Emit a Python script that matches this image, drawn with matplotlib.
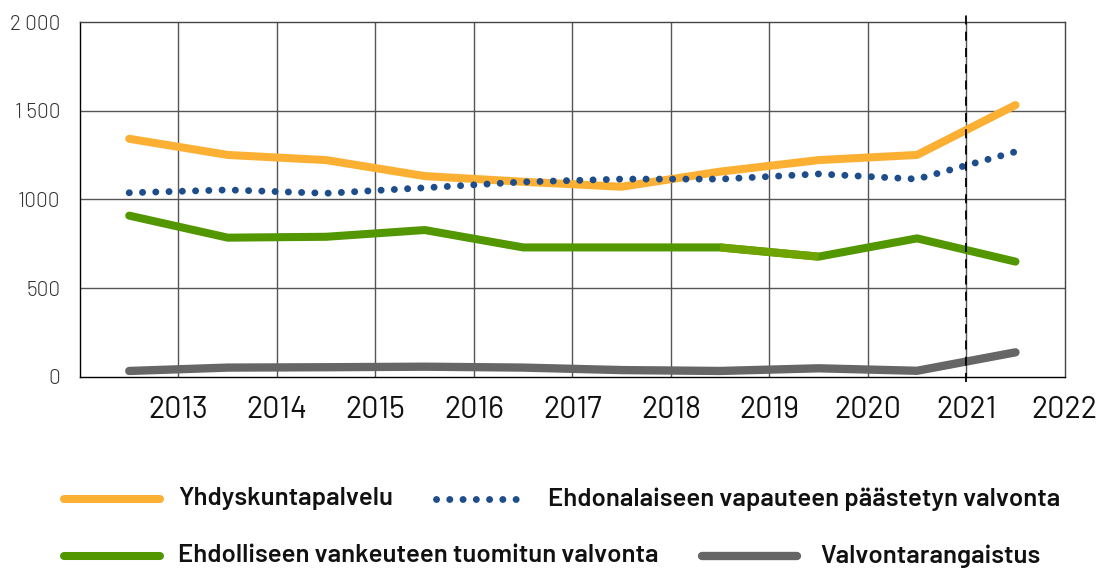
import matplotlib.pyplot as plt
from matplotlib.lines import Line2D

plt.rcParams['font.family'] = ['Barlow', 'DejaVu Sans']

years = ['2013', '2014', '2015', '2016', '2017', '2018', '2019', '2020', '2021', '2022']
yhdyskunta = [1342, 1251, 1222, 1132, 1100, 1072, 1157, 1222, 1251, 1532]
ehdonalainen = [1038, 1054, 1035, 1066, 1099, 1115, 1115, 1144, 1115, 1269]
ehdollinen = [909, 785, 790, 828, 730, 730, 730, 678, 781, 650]
valvonta = [34, 53, 55, 58, 53, 39, 34, 49, 35, 139]

y_ticks = [0, 500, 1000, 1500, 2000]
y_labels = ['0', '500', '1000', '1 500', '2 000']

names = ['Yhdyskuntapalvelu', 'Ehdonalaiseen vapauteen päästetyn valvonta',
         'Ehdolliseen vankeuteen tuomitun valvonta', 'Valvontarangaistus']

c_yellow = '#FBB034'
c_blue = '#1E4D8C'
c_green = '#529600'
c_green2 = '#6FA300'
c_gray = '#666666'

fig = plt.figure(figsize=(10.99, 5.70), dpi=100)
ax = fig.add_axes([0.0728, 0.3386, 0.896, 0.6228])

x = [i + 0.5 for i in range(len(years))]

# grid
for g in range(1, len(years)):
    ax.axvline(g, color='#555555', lw=1, zorder=1)
for t in y_ticks[1:-1]:
    ax.axhline(t, color='#555555', lw=1, zorder=1)

ax.plot(x, valvonta, color=c_gray, lw=6, solid_capstyle='round', solid_joinstyle='round', zorder=3)
ax.plot(x, ehdollinen, color=c_green, lw=5.8, solid_capstyle='round', solid_joinstyle='round', zorder=3)
ax.plot(x[6:8], ehdollinen[6:8], color=c_green2, lw=5.8, solid_capstyle='butt', zorder=3)
ax.plot(x, yhdyskunta, color=c_yellow, lw=5.8, solid_capstyle='round', solid_joinstyle='round', zorder=4)
ax.plot(x, ehdonalainen, color=c_blue, lw=5, linestyle=(0, (0.01, 1.9)),
        dash_capstyle='round', zorder=5)

ax.set_xlim(0, len(years))
ax.set_ylim(0, 2000)

# dashed forecast line
ax.plot([9, 9], [-30, 2040], color='black', lw=1.3, ls=(0, (5, 4)), clip_on=False, zorder=6)

ax.set_xticks(range(1, len(years) + 1))
ax.set_xticklabels(years, fontsize=22, color='#111111')
ax.set_yticks(y_ticks)
ax.set_yticklabels(y_labels, fontsize=15, color='#333333', fontweight=300)
ax.tick_params(length=0)
ax.tick_params(axis='x', pad=14)
ax.tick_params(axis='y', pad=14)
for lbl in ax.get_xticklabels():
    lbl.set_x(lbl.get_position()[0])

for s in ['left', 'bottom']:
    ax.spines[s].set_color('black')
for s in ['top', 'right']:
    ax.spines[s].set_color('#444444')
for s in ax.spines.values():
    s.set_linewidth(1)

# legend drawn by hand
W, H = 1099, 570
def leg_item(x0, x1, xt, yp, label, **kw):
    fig.add_artist(Line2D([x0 / W, x1 / W], [1 - yp / H, 1 - yp / H], transform=fig.transFigure, **kw))
    fig.text(xt / W, 1 - yp / H, label, fontsize=18.5, fontweight=600, va='center', ha='left', color='#111111')

leg_item(64, 160, 178, 499, names[0], color=c_yellow, lw=5.8, solid_capstyle='round')
leg_item(436, 528, 548, 499, names[1], color=c_blue, lw=5, ls=(0, (0.01, 1.9)), dash_capstyle='round')
leg_item(64, 160, 178, 556, names[2], color=c_green, lw=5.8, solid_capstyle='round')
leg_item(702, 797, 820, 556, names[3], color=c_gray, lw=6, solid_capstyle='round')

fig.savefig('out.png', dpi=100)
